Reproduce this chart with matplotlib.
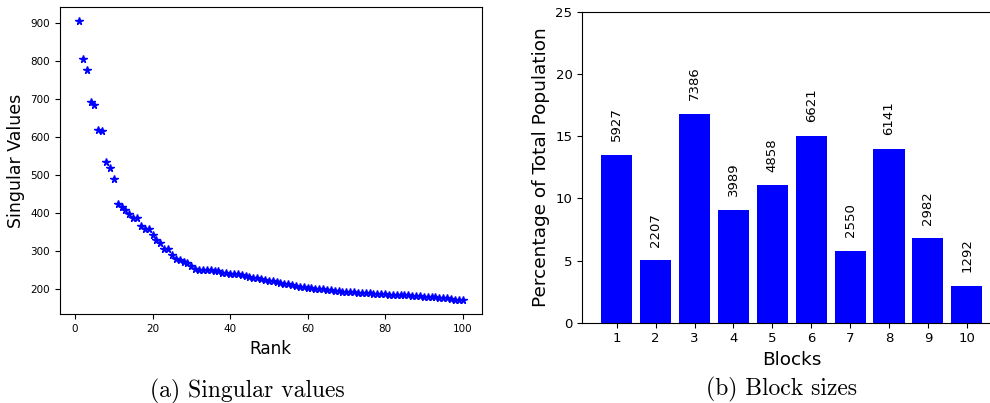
import numpy as np
import matplotlib.pyplot as plt

# singular values, rank 1..100
rank = list(range(1, 101))
singular_values = [
    905, 805, 774, 690, 683, 618, 614, 533, 517, 487,
    422, 414, 408, 397, 386, 385, 364, 358, 357, 340,
    329, 321, 304, 304, 288, 277, 275, 270, 268, 260,
    251, 250, 249, 249, 248, 247, 246, 242, 240, 239,
    238, 237, 236, 234, 230, 228, 227, 225, 223, 221,
    219, 217, 215, 213, 211, 208, 206, 204, 203, 202,
    201, 200, 199, 198, 197, 195, 194, 193, 192, 191,
    190, 190, 189, 188, 188, 187, 186, 186, 185, 185,
    184, 184, 183, 183, 182, 182, 181, 180, 180, 179,
    178, 178, 177, 176, 175, 174, 172, 171, 170, 169,
]

# block sizes
blocks = [1, 2, 3, 4, 5, 6, 7, 8, 9, 10]
block_counts = [5927, 2207, 7386, 3989, 4858, 6621, 2550, 6141, 2982, 1292]
block_percent = [13.49, 5.02, 16.80, 9.08, 11.05, 15.06, 5.80, 13.97, 6.78, 2.94]

fig = plt.figure(figsize=(9.9, 4.03), dpi=100)

# (a) singular values
ax1 = fig.add_axes([0.0603, 0.2201, 0.4263, 0.7633])
ax1.plot(rank, singular_values, 'b*', markersize=5.5)
ax1.set_xticks([0, 20, 40, 60, 80, 100])
ax1.set_yticks([200, 300, 400, 500, 600, 700, 800, 900])
ax1.tick_params(labelsize=7.5)
ax1.set_xlabel('Rank', fontsize=12.2)
ax1.set_ylabel('Singular Values', fontsize=12.5)

# (b) block sizes
ax2 = fig.add_axes([0.588, 0.1993, 0.4235, 0.7709])
ax2.bar(blocks, block_percent, width=0.8, color='blue')
for b, p, c in zip(blocks, block_percent, block_counts):
    ax2.text(b, p + 1.1, str(c), rotation=90, ha='center', va='bottom', fontsize=9.5)
ax2.set_ylim(0, 25)
ax2.set_xticks(blocks)
ax2.tick_params(labelsize=9.5)
ax2.set_xlabel('Blocks', fontsize=13.3)
ax2.set_ylabel('Percentage of Total Population', fontsize=13.3)

# captions
fig.text(0.25, 1 - 391 / 403, '(a) Singular values', family='cmr10',
         fontsize=17, ha='center', va='center')
fig.text(782 / 990, 1 - 389 / 403, '(b) Block sizes', family='cmr10',
         fontsize=17, ha='center', va='center')

plt.savefig('out.png', dpi=100)
